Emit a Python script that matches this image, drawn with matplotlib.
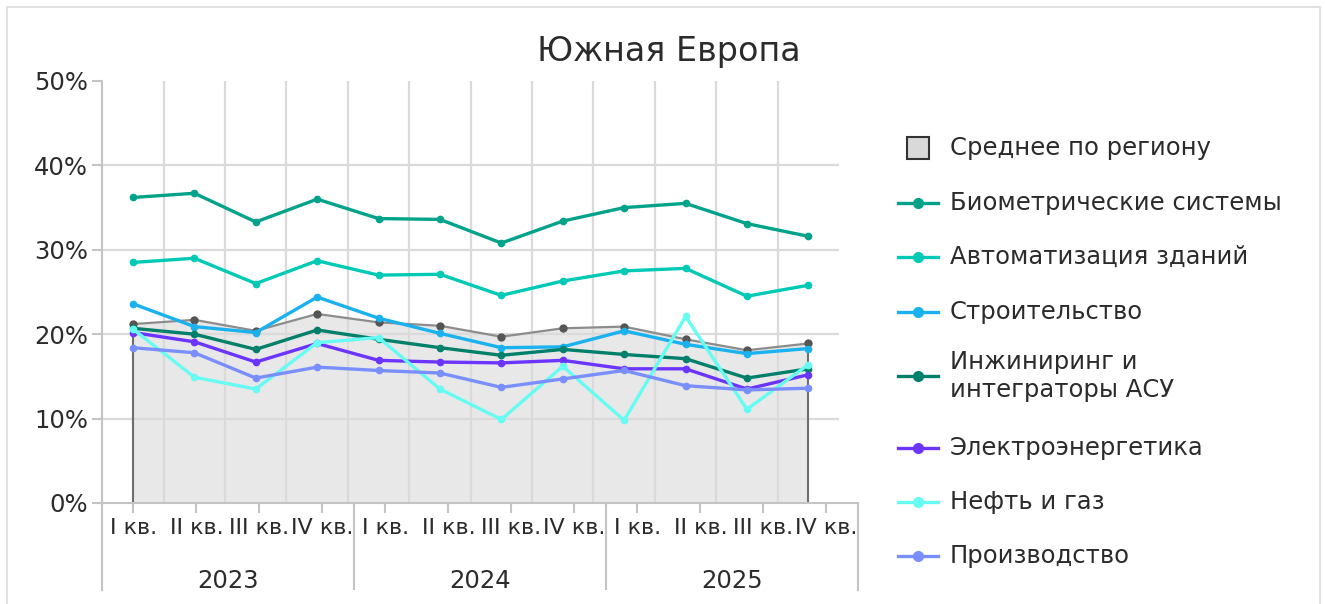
import matplotlib
matplotlib.use("Agg")
import matplotlib.pyplot as plt
from matplotlib.lines import Line2D
from matplotlib.patches import Rectangle

plt.rcParams['font.family'] = ['DejaVu Sans']

# ---------------- data ----------------
quarters = ["I кв.", "II кв.", "III кв.", "IV кв."]
years = ["2023", "2024", "2025"]
title = "Южная Европа"

avg_label = "Среднее по региону"
avg_values = [21.2, 21.7, 20.4, 22.4, 21.4, 21.0, 19.7, 20.7, 20.9, 19.4, 18.1, 18.9]

series_names = [
    "Биометрические системы",
    "Автоматизация зданий",
    "Строительство",
    "Инжиниринг и\nинтеграторы АСУ",
    "Электроэнергетика",
    "Нефть и газ",
    "Производство",
]
biometric = [36.2, 36.7, 33.3, 36.0, 33.7, 33.6, 30.8, 33.4, 35.0, 35.5, 33.1, 31.6]
automation = [28.5, 29.0, 26.0, 28.7, 27.0, 27.1, 24.6, 26.3, 27.5, 27.8, 24.5, 25.8]
construction = [23.6, 20.9, 20.2, 24.4, 21.9, 20.1, 18.4, 18.5, 20.4, 18.8, 17.7, 18.3]
engineering = [20.7, 20.0, 18.2, 20.5, 19.4, 18.4, 17.5, 18.2, 17.6, 17.1, 14.8, 15.9]
electro = [20.2, 19.1, 16.7, 18.9, 16.9, 16.7, 16.6, 16.9, 15.9, 15.9, 13.5, 15.2]
oilgas = [20.6, 14.9, 13.5, 19.0, 19.6, 13.5, 9.9, 16.2, 9.8, 22.1, 11.1, 16.4]
production = [18.4, 17.8, 14.8, 16.1, 15.7, 15.4, 13.7, 14.7, 15.7, 13.9, 13.4, 13.6]

series_values = [biometric, automation, construction, engineering, electro, oilgas, production]
series_colors = ["#00A38A", "#00C9B6", "#1AB2EE", "#007F6A", "#6B34FF", "#66FBF3", "#7A8FFF"]

yticks = [0, 10, 20, 30, 40, 50]

# ---------------- figure ----------------
W, H = 1325, 604
fig = plt.figure(figsize=(W / 100, H / 100), dpi=100)

def fx(px):
    return px / W

def fy(py):
    return 1 - py / H

TXT = "#2b2b2b"
GRID = "#DADADA"
AXC = "#C4C4C4"

# outer frame
fig.add_artist(Rectangle((fx(7), fy(620)), fx(1320) - fx(7), fy(7) - fy(620),
                         transform=fig.transFigure, fill=False, edgecolor="#DCDCDC", lw=1.2))

# main axes
ax = fig.add_axes([fx(102), fy(503), fx(839) - fx(102), fy(81) - fy(503)])
n = len(avg_values)
x = list(range(n))
ax.set_xlim(-0.505, 11.5)
ax.set_ylim(0, 50)
for s in ["top", "right", "bottom"]:
    ax.spines[s].set_visible(False)
ax.spines["left"].set_color(AXC)
ax.spines["left"].set_linewidth(1.5)
ax.set_xticks([])
ax.set_yticks(yticks)
ax.set_yticklabels([f"{v}%" for v in yticks], fontsize=17.5, color=TXT)
ax.tick_params(axis="y", length=7, width=1.5, color=AXC, pad=3)

# grid
for v in yticks[1:-1]:
    ax.axhline(v, color=GRID, lw=1.6, zorder=1.5)
for k in range(1, n):
    ax.axvline(k - 0.5, color=GRID, lw=1.6, zorder=1.5)

# average area
ax.fill_between(x, avg_values, 0, color="#E8E8E8", zorder=1, lw=0)
ax.plot([x[0], x[0]], [0, avg_values[0]], color="#6E6E6E", lw=1.5, zorder=2)
ax.plot([x[-1], x[-1]], [0, avg_values[-1]], color="#6E6E6E", lw=1.5, zorder=2)
ax.plot(x, avg_values, color="#8C8C8C", lw=1.6, marker="o", ms=5,
        mfc="#555555", mec="#555555", zorder=2.5)

for vals, col in zip(series_values, series_colors):
    ax.plot(x, vals, color=col, lw=2.4, marker="o", ms=4.5, mfc=col, mec=col, zorder=3)

# category axis
ax2 = fig.add_axes([fx(102), fy(590), fx(858) - fx(102), fy(503) - fy(590)])
ax2.set_xlim(0, 12)
ax2.set_ylim(0, 1)
ax2.patch.set_visible(False)
ax2.spines["bottom"].set_visible(False)
for s in ["top", "left", "right"]:
    ax2.spines[s].set_color(AXC)
    ax2.spines[s].set_linewidth(1.5)
ax2.set_yticks([])
ax2.xaxis.tick_top()
ax2.set_xticks([i + 0.5 for i in range(12)])
ax2.set_xticklabels([])
ax2.tick_params(axis="x", direction="in", length=7, width=1.5, color=AXC)
for b in [4, 8]:
    ax2.axvline(b, color=AXC, lw=1.5)
labels = [q for _ in years for q in quarters]
for i, lab in enumerate(labels):
    ax2.text(i + 0.5, 1 - 25 / 87, lab, ha="center", va="center", fontsize=16, color=TXT)
for j, yr in enumerate(years):
    ax2.text(4 * j + 2, 1 - 78 / 87, yr, ha="center", va="center", fontsize=17.5, color=TXT)

# title
fig.text(fx(669), fy(52), title, ha="center", va="center", fontsize=24, color=TXT)

# legend (manual)
leg_y = [203, 257, 312, 376, 448, 502, 556]
fig.add_artist(Rectangle((fx(907), fy(159)), fx(22), fy(137) - fy(159), transform=fig.transFigure,
                         facecolor="#D9D9D9", edgecolor="#333333", lw=1.5))
fig.text(fx(950), fy(148), avg_label, ha="left", va="center", fontsize=17.5, color=TXT)
for yy, name, col in zip(leg_y, series_names, series_colors):
    fig.add_artist(Line2D([fx(898), fx(938)], [fy(yy), fy(yy)], transform=fig.transFigure,
                          color=col, lw=2.4, marker=None))
    fig.add_artist(Line2D([fx(918)], [fy(yy)], transform=fig.transFigure,
                          color=col, marker="o", ms=7, mfc=col, mec=col, lw=0))
    fig.text(fx(950), fy(yy), name, ha="left", va="center", fontsize=17.5, color=TXT,
             linespacing=1.2)

fig.savefig("out.png", dpi=100)
